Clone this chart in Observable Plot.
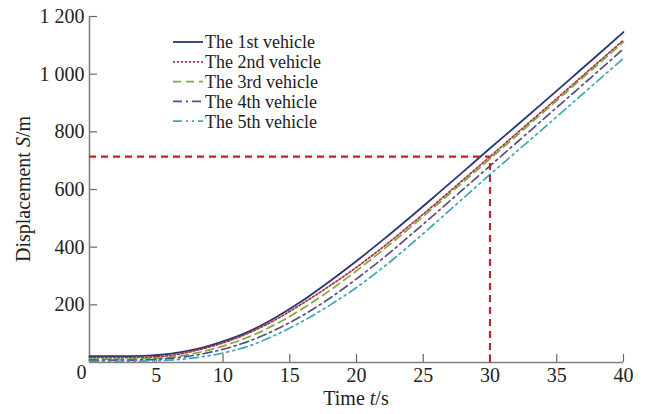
<!DOCTYPE html>
<html>
<head>
<meta charset="utf-8">
<script src="https://cdn.jsdelivr.net/npm/d3@7"></script>
<script src="https://cdn.jsdelivr.net/npm/@observablehq/plot@0.6"></script>
<style>
  html, body { margin: 0; padding: 0; background: #fff; }
  #chart { position: relative; width: 646px; height: 414px; }
</style>
</head>
<body>
<div id="chart"></div>
<script>
// Time samples (s)
const time = [0, 2, 4, 6, 8, 10, 12, 14, 16, 18, 20, 22, 24, 26, 28, 30, 32, 34, 36, 38, 40];

// Displacement of each vehicle (m)
const vehicle1 = [22, 22, 23, 30, 46, 73, 109, 158, 216, 282, 352, 426, 503, 582, 662, 743, 822, 902, 983, 1064, 1146];
const vehicle2 = [17, 17, 18, 24, 42, 68, 104, 150, 206, 266, 330, 401, 476, 554, 634, 714, 795, 875, 956, 1037, 1118];
const vehicle3 = [12, 12, 13, 18, 33, 57, 90, 134, 188, 250, 318, 391, 467, 546, 626, 706, 787, 868, 949, 1030, 1112];
const vehicle4 = [8, 8, 9, 14, 26, 46, 75, 115, 164, 223, 290, 362, 440, 520, 601, 682, 763, 844, 925, 1006, 1088];
const vehicle5 = [4, 4, 5, 8, 17, 33, 58, 97, 144, 199, 260, 330, 407, 488, 570, 652, 732, 812, 893, 974, 1055];

const seriesNames = ["The 1st vehicle", "The 2nd vehicle", "The 3rd vehicle", "The 4th vehicle", "The 5th vehicle"];
const seriesValues = [vehicle1, vehicle2, vehicle3, vehicle4, vehicle5];

// Axis ticks
const xTicks = [5, 10, 15, 20, 25, 30, 35, 40];
const yTicks = [200, 400, 600, 800, 1000, 1200];

// Marked instant: the 2nd vehicle at t = 30 s
const markTime = 30;
const markValue = vehicle2[time.indexOf(markTime)];

const styles = [
  {stroke: "#243a6c", dash: null, width: 1.8},
  {stroke: "#a83048", dash: "2,2", width: 1.7},
  {stroke: "#7fa83e", dash: "8,5", width: 1.7},
  {stroke: "#5a4a8c", dash: "9,4,2,4", width: 1.7},
  {stroke: "#3ea6b6", dash: "9,4,2,4,2,4", width: 1.7}
];

const rows = seriesValues.map((vals, i) => time.map((t, j) => ({t, s: vals[j], name: seriesNames[i]})));

const serif = "'Liberation Serif', 'Times New Roman', 'DejaVu Serif', serif";
const fmt = d => d >= 1000 ? d3.format(",")(d).replace(",", " ") : String(d);

const plot = Plot.plot({
  width: 646,
  height: 414,
  marginLeft: 89,
  marginRight: 23,
  marginTop: 16,
  marginBottom: 52,
  style: {fontFamily: serif, fontSize: "20px", color: "#222", background: "#fff"},
  x: {domain: [0, 40], label: null},
  y: {domain: [0, 1200], label: null},
  marks: [
    // inward tick marks
    Plot.axisX(xTicks, {tickSize: -8, tickFormat: () => "", stroke: "#666", strokeWidth: 1.2}),
    Plot.axisY(yTicks, {tickSize: -8, tickFormat: () => "", stroke: "#666", strokeWidth: 1.2}),
    // tick labels
    Plot.axisX(xTicks, {tickSize: 0, tickPadding: 5, tickFormat: fmt, fill: "#222"}),
    Plot.axisY(yTicks, {tickSize: 0, tickPadding: 5, tickFormat: fmt, fill: "#222"}),
    Plot.text([0], {x: 0, y: 0, text: () => "0", dx: -3, dy: 10, textAnchor: "end", fill: "#222"}),
    // axis lines
    Plot.ruleX([0], {stroke: "#808080", strokeWidth: 1.6}),
    Plot.ruleY([0], {stroke: "#808080", strokeWidth: 1.6}),
    // vehicle curves
    ...rows.map((r, i) => Plot.line(r, {
      x: "t", y: "s",
      stroke: styles[i].stroke,
      strokeWidth: styles[i].width,
      strokeDasharray: styles[i].dash,
      curve: "monotone-x"
    })),
    // reference lines at t = 30 s
    Plot.ruleY([markValue], {x1: 0, x2: markTime, stroke: "#c0222e", strokeWidth: 2.2, strokeDasharray: "7,5"}),
    Plot.ruleX([markTime], {y1: 0, y2: markValue, stroke: "#c0222e", strokeWidth: 2.2, strokeDasharray: "7,5"})
  ]
});

document.getElementById("chart").appendChild(plot);

const svg = d3.select(plot);
const xs = plot.scale("x"), ys = plot.scale("y");
const x0 = xs.apply(0), x1 = xs.apply(40);
const y0 = ys.apply(0), y1 = ys.apply(1200);

// axis titles with italic symbols
const xt = svg.append("text")
  .attr("x", (x0 + x1) / 2)
  .attr("y", 405)
  .attr("text-anchor", "middle")
  .style("font-family", serif)
  .style("font-size", "20px")
  .attr("fill", "#222");
xt.append("tspan").text("Time ");
xt.append("tspan").style("font-style", "italic").text("t");
xt.append("tspan").text("/s");

const yt = svg.append("text")
  .attr("transform", `translate(30,${(y0 + y1) / 2}) rotate(-90)`)
  .attr("text-anchor", "middle")
  .style("font-family", serif)
  .style("font-size", "20px")
  .attr("fill", "#222");
yt.append("tspan").text("Displacement ");
yt.append("tspan").style("font-style", "italic").text("S");
yt.append("tspan").text("/m");

// legend
const lg = svg.append("g");
seriesNames.forEach((name, i) => {
  const y = 42 + i * 19.8;
  lg.append("line")
    .attr("x1", 173).attr("x2", 203).attr("y1", y).attr("y2", y)
    .attr("stroke", styles[i].stroke)
    .attr("stroke-width", styles[i].width)
    .attr("stroke-dasharray", styles[i].dash);
  lg.append("text")
    .attr("x", 205).attr("y", y).attr("dy", "0.35em")
    .attr("text-anchor", "start")
    .style("font-family", serif)
    .style("font-size", "18px")
    .attr("fill", "#222")
    .text(name);
});
</script>
</body>
</html>
